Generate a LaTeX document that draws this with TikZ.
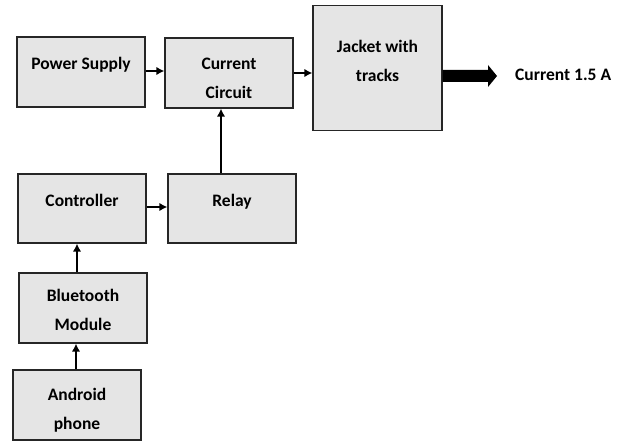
\documentclass[tikz,border=0pt]{standalone}
\usepackage{fontspec}
\setmainfont{Carlito}
\usetikzlibrary{arrows.meta}
\tikzset{
  box/.style={draw=black!85, line width=1.3pt, fill=black!10, rectangle, inner sep=0pt,
    align=center, font={\bfseries\fontsize{17.5}{29}\selectfont}},
  one/.style={text height=12pt, text depth=17pt},
  conn/.style={line width=1.8pt, -{Latex[length=8pt,width=8.5pt]}},
}
\begin{document}
\begin{tikzpicture}[x=1pt,y=-1pt]
\useasboundingbox (0,0) rectangle (623,441);
\node[box, one, minimum width=128pt, minimum height=70pt] (ps) at (81,72) {Power Supply};
\node[box, text height=51pt, minimum width=128pt, minimum height=70pt] (cc) at (229,73) {Current\\Circuit};
\node[box, minimum width=129pt, minimum height=125pt, text depth=15pt] (jk) at (377.5,68) {Jacket with\\tracks};
\node[box, one, minimum width=128pt, minimum height=69pt] (ctl) at (82,208.5) {Controller};
\node[box, one, minimum width=128pt, minimum height=69pt] (rel) at (232,208.5) {Relay};
\node[box, text height=46pt, minimum width=128pt, minimum height=70pt] (bt) at (83,308) {Bluetooth\\Module};
\node[box, text height=51pt, minimum width=128pt, minimum height=70pt] (an) at (77,405) {Android\\phone};
\node[font={\bfseries\fontsize{17.5}{20}\selectfont}, anchor=west, inner sep=0pt] (out) at (515,75) {Current 1.5 A};
\coordinate (tipb) at (497,76);

\draw[conn] (ps.east |- 0,71) -- (cc.west |- 0,71);
\draw[conn] (cc.east |- 0,73) -- (jk.west |- 0,73);
\draw[conn] (rel.north -| 221,0) -- (cc.south -| 221,0);
\draw[conn] (ctl.east |- 0,207) -- (rel.west |- 0,207);
\draw[conn] (bt.north -| 77,0) -- (ctl.south -| 77,0);
\draw[conn] (an.north -| 76,0) -- (bt.south -| 76,0);
\fill[black] (jk.east |- 0,70) -- (488,70) -- (488,65) -- (tipb) -- (488,87) -- (488,82) -- (jk.east |- 0,82) -- cycle;
\end{tikzpicture}
\end{document}
